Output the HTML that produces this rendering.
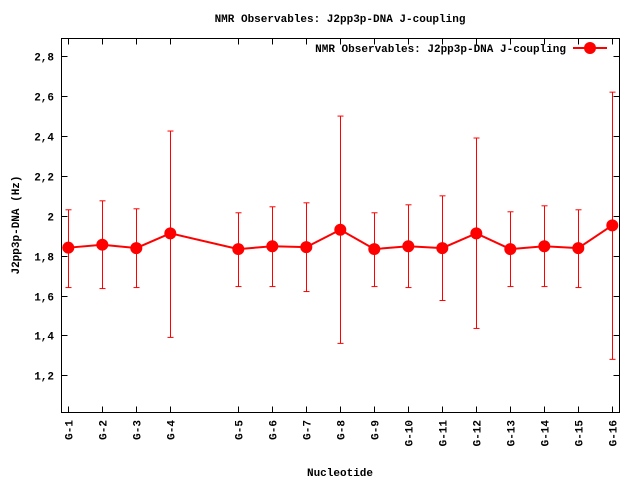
<!DOCTYPE html>
<html><head><meta charset="utf-8"><style>
body{margin:0;background:#fff}
svg text{font-family:"Liberation Mono",monospace;font-weight:bold;font-size:11px;fill:#000}
</style></head><body>
<svg id="c" width="640" height="480" xmlns="http://www.w3.org/2000/svg">
<rect width="640" height="480" fill="#fff"/>
<text x="340" y="22" text-anchor="middle">NMR Observables: J2pp3p-DNA J-coupling</text>
<text x="340" y="476" text-anchor="middle">Nucleotide</text>
<text transform="translate(19,225) rotate(-90)" text-anchor="middle">J2pp3p-DNA (Hz)</text>
<g id="axes"></g>
<g id="marks"></g>
<g>
<text x="566" y="52" text-anchor="end">NMR Observables: J2pp3p-DNA J-coupling</text>
<line x1="573" y1="48" x2="607" y2="48" stroke="#f00" stroke-width="2"/>
<circle cx="590" cy="48" r="6" fill="#f00"/>
</g>
</svg>
<script>
const categories=["G-1","G-2","G-3","G-4","G-5","G-6","G-7","G-8","G-9","G-10","G-11","G-12","G-13","G-14","G-15","G-16"];
const positions=[0,1,2,3,5,6,7,8,9,10,11,12,13,14,15,16];
const values=[1.84,1.855,1.838,1.912,1.833,1.847,1.843,1.93,1.833,1.847,1.838,1.912,1.833,1.847,1.838,1.952];
const errLow=[1.64,1.635,1.64,1.39,1.645,1.645,1.62,1.36,1.645,1.64,1.575,1.435,1.645,1.645,1.64,1.28];
const errHigh=[2.03,2.075,2.035,2.425,2.015,2.045,2.065,2.5,2.015,2.055,2.10,2.39,2.02,2.05,2.03,2.62];
const yTicks=[1.2,1.4,1.6,1.8,2,2.2,2.4,2.6,2.8];
const yTickLabels=["1,2","1,4","1,6","1,8","2","2,2","2,4","2,6","2,8"];
const NS="http://www.w3.org/2000/svg";
const L=61.5,R=619.5,T=38.5,B=412.5;
const X=p=>68.3+p*34;
const Y=v=>375.3-(v-1.2)*199.4;
function mk(par,tag,attrs){const e=document.createElementNS(NS,tag);for(const k in attrs)e.setAttribute(k,attrs[k]);par.appendChild(e);return e;}
const ax=document.getElementById('axes'),mg=document.getElementById('marks');
const fr=mk(ax,'rect',{x:L,y:T,width:R-L,height:B-T,fill:'none',stroke:'#000','stroke-width':1});


yTicks.forEach((v,i)=>{const y=Math.round(Y(v))+0.5;
 mk(ax,'line',{x1:L,y1:y,x2:L+6,y2:y,stroke:'#000'});
 mk(ax,'line',{x1:R,y1:y,x2:R-6,y2:y,stroke:'#000'});
 const t=mk(ax,'text',{x:54,y:y+4,'text-anchor':'end'});t.textContent=yTickLabels[i];
 
 
});
categories.forEach((c,i)=>{const x=Math.round(X(positions[i]))+0.5;
 mk(ax,'line',{x1:x,y1:B,x2:x,y2:B-6,stroke:'#000'});
 mk(ax,'line',{x1:x,y1:T,x2:x,y2:T+6,stroke:'#000'});
 const t=mk(ax,'text',{transform:`translate(${x+4},420) rotate(-90)`,'text-anchor':'end'});t.textContent=c;
 
 
});
categories.forEach((c,i)=>{const x=Math.round(X(positions[i]))+0.5;const lo=Y(errLow[i]),hi=Y(errHigh[i]);
 const g=mk(mg,'g',{stroke:'#f00','stroke-width':1});
 
 
 mk(g,'line',{x1:x,y1:lo,x2:x,y2:hi});
 mk(g,'line',{x1:x-3,y1:lo,x2:x+3,y2:lo});
 mk(g,'line',{x1:x-3,y1:hi,x2:x+3,y2:hi});
});
const pl=mk(mg,'polyline',{points:values.map((v,i)=>X(positions[i])+','+Y(v)).join(' '),fill:'none',stroke:'#f00','stroke-width':2});


values.forEach((v,i)=>{const c=mk(mg,'circle',{cx:X(positions[i]),cy:Y(v),r:6,fill:'#f00'});
 
 
});
</script>
</body></html>
